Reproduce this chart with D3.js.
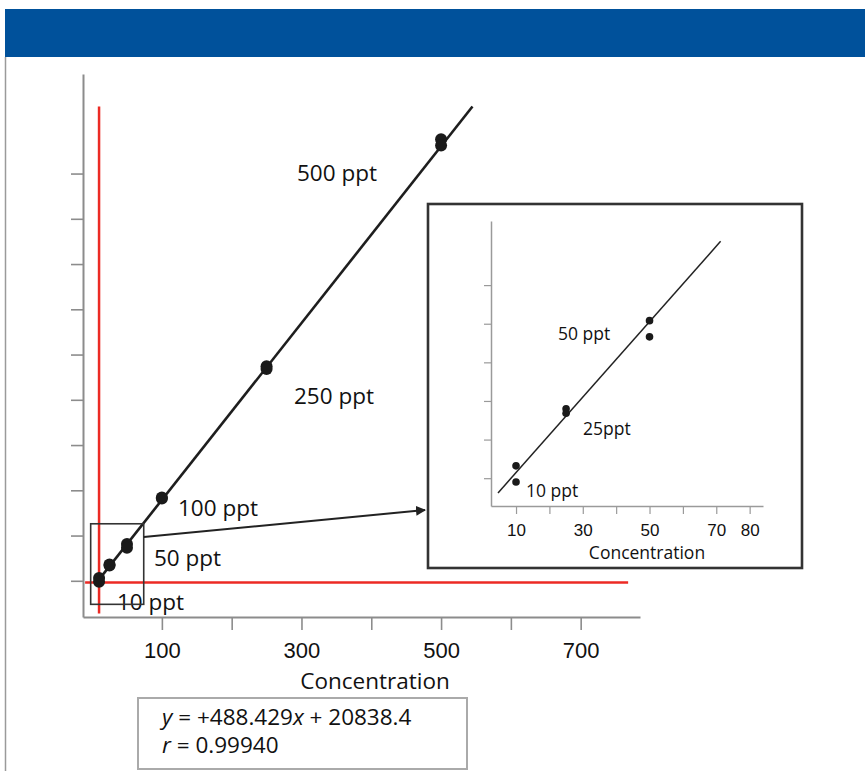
<!DOCTYPE html>
<html>
<head>
<meta charset="utf-8">
<script src="https://cdn.jsdelivr.net/npm/d3@7"></script>
<style>
  body { margin: 0; background: #fff; }
  svg { display: block; font-family: "Open Sans", "Noto Sans", sans-serif; }
</style>
</head>
<body>
<svg id="chart"></svg>
<script>
// calibration data: two replicate injections per level
let levels = [10, 25, 50, 100, 250, 500]
let rep1 = [26600, 34000, 45400, 71000, 143500, 269000]
let rep2 = [24500, 33400, 43300, 70500, 142000, 265500]
let levelLabels = ["10 ppt", "25ppt", "50 ppt", "100 ppt", "250 ppt", "500 ppt"]

// fit shown in the box
let slope = 488.429
let intercept = 20838.4
let rValue = "0.99940"

// axis ticks
let mainXTicks = [100, 200, 300, 400, 500, 600, 700]
let mainXLabels = [100, 300, 500, 700]
let mainYTicks = [25000, 50000, 75000, 100000, 125000, 150000, 175000, 200000, 225000, 250000]
let insetXTicks = [10, 20, 30, 40, 50, 60, 70, 80]
let insetXLabels = [10, 30, 50, 70, 80]
let insetYTicks = [25000, 30000, 35000, 40000, 45000, 50000]

let svg = d3.select("#chart")
setup(svg, 865, 771)
makeMainChart(svg)
makeInset(svg)

function setup(svg, w, h) {
    svg.attr("width", w).attr("height", h)
    // blue banner and page edge
    svg.append("rect").attr("x", 5).attr("y", 9).attr("width", w - 5).attr("height", 48).attr("fill", "#00519b")
    svg.append("line").attr("x1", 5.5).attr("x2", 5.5).attr("y1", 57).attr("y2", h).attr("stroke", "#9a9a9a").attr("stroke-width", 1.5)

    svg.append("defs").append("marker")
        .attr("id", "arrow").attr("viewBox", "0 0 10 10")
        .attr("refX", 9).attr("refY", 5)
        .attr("markerWidth", 5).attr("markerHeight", 5)
        .attr("orient", "auto")
        .append("path").attr("d", "M0,0 L10,5 L0,10 z").attr("fill", "#222")
}

function fit(x) { return slope * x + intercept }

function styleAxis(g, color, width) {
    g.select(".domain").attr("stroke", color).attr("stroke-width", width)
    g.selectAll(".tick line").attr("stroke", color).attr("stroke-width", width * 0.8)
    g.selectAll(".tick text").attr("fill", "#111")
}

function makeMainChart(svg) {
    let x = d3.scaleLinear().domain([-13, 785]).range([83, 640])
    let y = d3.scaleLinear().domain([5000, 305000]).range([617, 74])

    let xAxis = d3.axisBottom(x).tickValues(mainXTicks).tickSize(13).tickSizeOuter(0).tickPadding(12)
        .tickFormat(d => mainXLabels.includes(d) ? d : "")
    let gx = svg.append("g").attr("transform", "translate(0,617)").call(xAxis)
    gx.selectAll(".tick text").style("font-size", "22px")
    styleAxis(gx, "#8c8c8c", 2)

    let yAxis = d3.axisLeft(y).tickValues(mainYTicks).tickSize(12).tickSizeOuter(0).tickFormat("")
    let gy = svg.append("g").attr("transform", "translate(83,0)").call(yAxis)
    styleAxis(gy, "#8c8c8c", 2)

    svg.append("text").attr("x", 375).attr("y", 689).attr("text-anchor", "middle")
        .style("font-size", "22.5px").attr("fill", "#111").text("Concentration")

    // red crosshair through the lowest standard
    svg.append("line").attr("x1", x(levels[0])).attr("x2", x(levels[0]))
        .attr("y1", y(287000)).attr("y2", y(7000))
        .attr("stroke", "#ec2a24").attr("stroke-width", 2.5)
    svg.append("line").attr("x1", x(-10)).attr("x2", x(768))
        .attr("y1", y(24000)).attr("y2", y(24000))
        .attr("stroke", "#ec2a24").attr("stroke-width", 2.5)

    // regression line
    svg.append("path").datum([5, 545])
        .attr("fill", "none").attr("stroke", "#1e1e1e").attr("stroke-width", 2.6)
        .attr("d", d3.line().x(d => x(d)).y(d => y(fit(d))))

    let pts = levels.map((l, i) => [l, rep1[i]]).concat(levels.map((l, i) => [l, rep2[i]]))
    svg.selectAll("circle.main").data(pts).enter().append("circle")
        .attr("class", "main")
        .attr("cx", d => x(d[0])).attr("cy", d => y(d[1])).attr("r", 6)
        .attr("fill", "#1a1a1a")

    // labels next to the points
    let offs = [[117, 610], null, [154, 566], [178, 516], [294, 404], [297, 181]]
    offs.forEach((o, i) => {
        if (!o) return
        svg.append("text").attr("x", o[0]).attr("y", o[1])
            .style("font-size", "22.5px").attr("fill", "#111")
            .text(levelLabels[i])
    })

    // zoom window and arrow to the inset
    svg.append("rect")
        .attr("x", x(-2)).attr("y", y(56500))
        .attr("width", x(74) - x(-2)).attr("height", y(12000) - y(56500))
        .attr("fill", "none").attr("stroke", "#333").attr("stroke-width", 1.6)
    svg.append("line").attr("x1", x(74)).attr("y1", y(49200)).attr("x2", 425).attr("y2", 510)
        .attr("stroke", "#222").attr("stroke-width", 2).attr("marker-end", "url(#arrow)")

    // equation box
    svg.append("rect").attr("x", 138).attr("y", 698).attr("width", 329).attr("height", 71)
        .attr("fill", "#fff").attr("stroke", "#aaa").attr("stroke-width", 2)
    let eq = svg.append("text").attr("x", 162).attr("y", 725).style("font-size", "22.5px").attr("fill", "#111")
    eq.append("tspan").style("font-style", "italic").text("y")
    eq.append("tspan").text(" = +" + slope)
    eq.append("tspan").style("font-style", "italic").text("x")
    eq.append("tspan").text(" + " + intercept)
    let rt = svg.append("text").attr("x", 162).attr("y", 753).style("font-size", "22.5px").attr("fill", "#111")
    rt.append("tspan").style("font-style", "italic").text("r")
    rt.append("tspan").text(" = " + rValue)
}

function makeInset(svg) {
    svg.append("rect").attr("x", 428).attr("y", 204).attr("width", 374).attr("height", 364)
        .attr("fill", "#fff").attr("stroke", "#333").attr("stroke-width", 2.6)

    let x = d3.scaleLinear().domain([2.5, 84]).range([491, 763])
    let y = d3.scaleLinear().domain([21400, 58300]).range([506, 221])

    let xAxis = d3.axisBottom(x).tickValues(insetXTicks).tickSize(8).tickSizeOuter(0).tickPadding(10)
        .tickFormat(d => insetXLabels.includes(d) ? d : "")
    let gx = svg.append("g").attr("transform", "translate(0,506)").call(xAxis)
    gx.selectAll(".tick text").style("font-size", "17px")
    styleAxis(gx, "#9a9a9a", 1.5)

    let yAxis = d3.axisLeft(y).tickValues(insetYTicks).tickSize(7).tickSizeOuter(0).tickFormat("")
    let gy = svg.append("g").attr("transform", "translate(491,0)").call(yAxis)
    styleAxis(gy, "#9a9a9a", 1.5)

    svg.append("text").attr("x", 647).attr("y", 559).attr("text-anchor", "middle")
        .style("font-size", "17.5px").attr("fill", "#111").text("Concentration")

    svg.append("path").datum([4.6, 71.3])
        .attr("fill", "none").attr("stroke", "#222").attr("stroke-width", 1.5)
        .attr("d", d3.line().x(d => x(d)).y(d => y(fit(d))))

    let low = levels.slice(0, 3)
    let pts = low.map((l, i) => [l, rep1[i]]).concat(low.map((l, i) => [l, rep2[i]]))
    svg.selectAll("circle.inset").data(pts).enter().append("circle")
        .attr("class", "inset")
        .attr("cx", d => x(d[0])).attr("cy", d => y(d[1])).attr("r", 3.8)
        .attr("fill", "#1a1a1a")

    let offs = [[526, 497], [583, 435], [558, 340]]
    offs.forEach((o, i) => {
        svg.append("text").attr("x", o[0]).attr("y", o[1])
            .style("font-size", "17.5px").attr("fill", "#111").text(levelLabels[i])
    })
}
</script>
</body>
</html>
